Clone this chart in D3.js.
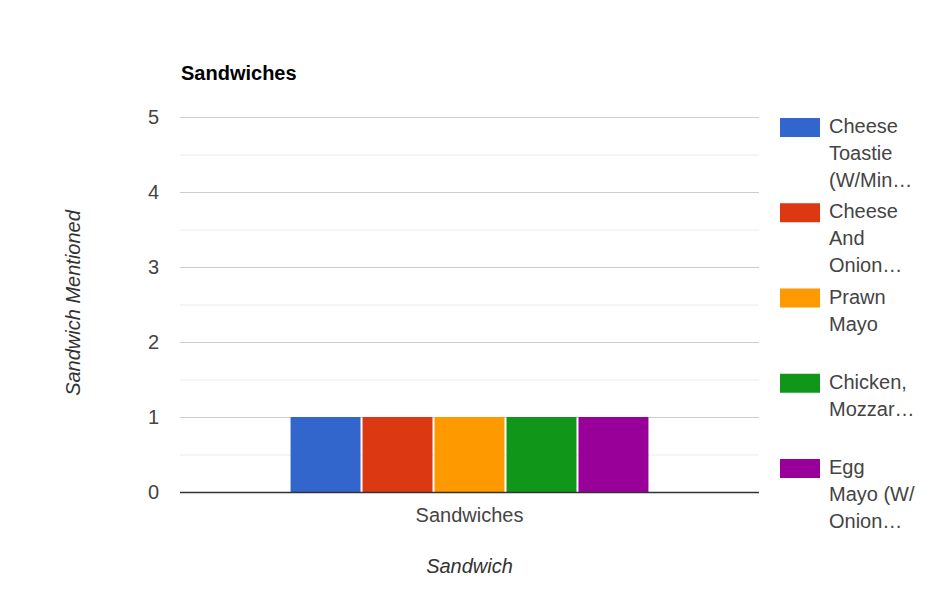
<!DOCTYPE html>
<html>
<head>
<meta charset="utf-8">
<script src="https://cdn.jsdelivr.net/npm/d3@7"></script>
<style>
  body { margin: 0; background: #fff; }
  text { font-family: "Liberation Sans", Arial, sans-serif; }
</style>
</head>
<body>
<svg id="chart" width="938" height="609"></svg>
<script>
const categories = ["Sandwiches"];
const seriesNames = [
  "Cheese Toastie (W/Minced Onion)",
  "Cheese And Onion Toastie",
  "Prawn Mayo",
  "Chicken, Mozzarella",
  "Egg Mayo (W/ Onion)"
];
const legendLines = [
  ["Cheese", "Toastie", "(W/Min…"],
  ["Cheese", "And", "Onion…"],
  ["Prawn", "Mayo"],
  ["Chicken,", "Mozzar…"],
  ["Egg", "Mayo (W/", "Onion…"]
];
const seriesValues = [[1], [1], [1], [1], [1]];
const colors = ["#3366cc", "#dc3912", "#ff9900", "#109618", "#990099"];
const yTicks = [0, 1, 2, 3, 4, 5];
const yMinorTicks = [0.5, 1.5, 2.5, 3.5, 4.5];

const svg = d3.select("#chart");
const plot = { left: 180, right: 759, top: 117, bottom: 492 };

const y = d3.scaleLinear().domain([0, 5]).range([plot.bottom, plot.top]);
const x0 = d3.scaleBand().domain(categories).range([plot.left, plot.right]).padding(0.236);
const x1 = d3.scaleBand().domain(seriesNames).range([0, x0.bandwidth()]).paddingInner(0.028);

// minor gridlines
svg.append("g").selectAll("line").data(yMinorTicks).join("line")
  .attr("x1", plot.left).attr("x2", plot.right)
  .attr("y1", d => y(d) + 0.5).attr("y2", d => y(d) + 0.5)
  .attr("stroke", "#ebebeb").attr("stroke-width", 1);

// major gridlines
svg.append("g").selectAll("line").data(yTicks.filter(d => d !== 0)).join("line")
  .attr("x1", plot.left).attr("x2", plot.right)
  .attr("y1", d => y(d) + 0.5).attr("y2", d => y(d) + 0.5)
  .attr("stroke", "#cccccc").attr("stroke-width", 1.2);

// y tick labels
svg.append("g").selectAll("text").data(yTicks).join("text")
  .attr("x", 159).attr("y", d => y(d) + 7)
  .attr("text-anchor", "end")
  .attr("font-size", 20).attr("fill", "#444")
  .text(d => d);

// bars
const groups = svg.append("g").selectAll("g").data(categories).join("g")
  .attr("transform", d => `translate(${x0(d)},0)`);
groups.selectAll("rect")
  .data((c, ci) => seriesNames.map((s, si) => ({ s, si, v: seriesValues[si][ci] })))
  .join("rect")
  .attr("x", d => x1(d.s))
  .attr("width", x1.bandwidth())
  .attr("y", d => y(d.v))
  .attr("height", d => y(0) - y(d.v))
  .attr("fill", d => colors[d.si]);

// baseline
svg.append("line")
  .attr("x1", plot.left).attr("x2", plot.right)
  .attr("y1", y(0) + 0.5).attr("y2", y(0) + 0.5)
  .attr("stroke", "#333").attr("stroke-width", 1.5);

// x tick labels
svg.append("g").selectAll("text").data(categories).join("text")
  .attr("x", d => x0(d) + x0.bandwidth() / 2).attr("y", 522)
  .attr("text-anchor", "middle").attr("font-size", 20).attr("fill", "#444")
  .text(d => d);

// title
svg.append("text").attr("x", 181).attr("y", 80)
  .attr("font-size", 20).attr("font-weight", "bold").attr("fill", "#000")
  .text("Sandwiches");

// axis titles
svg.append("text")
  .attr("x", (plot.left + plot.right) / 2).attr("y", 573)
  .attr("text-anchor", "middle").attr("font-size", 20)
  .attr("font-style", "italic").attr("fill", "#333")
  .text("Sandwich");
svg.append("text")
  .attr("transform", "translate(80,303) rotate(-90)")
  .attr("text-anchor", "middle").attr("font-size", 20)
  .attr("font-style", "italic").attr("fill", "#333")
  .text("Sandwich Mentioned");

// legend
const legend = svg.append("g").selectAll("g").data(seriesNames).join("g")
  .attr("transform", (d, i) => `translate(780,${118 + i * 85.25})`);
legend.append("rect")
  .attr("width", 40).attr("height", 19)
  .attr("fill", (d, i) => colors[i]);
legend.append("text")
  .attr("font-size", 20).attr("fill", "#444")
  .selectAll("tspan").data((d, i) => legendLines[i]).join("tspan")
  .attr("x", 49).attr("y", (d, j) => 15 + j * 27)
  .text(d => d);
</script>
</body>
</html>
